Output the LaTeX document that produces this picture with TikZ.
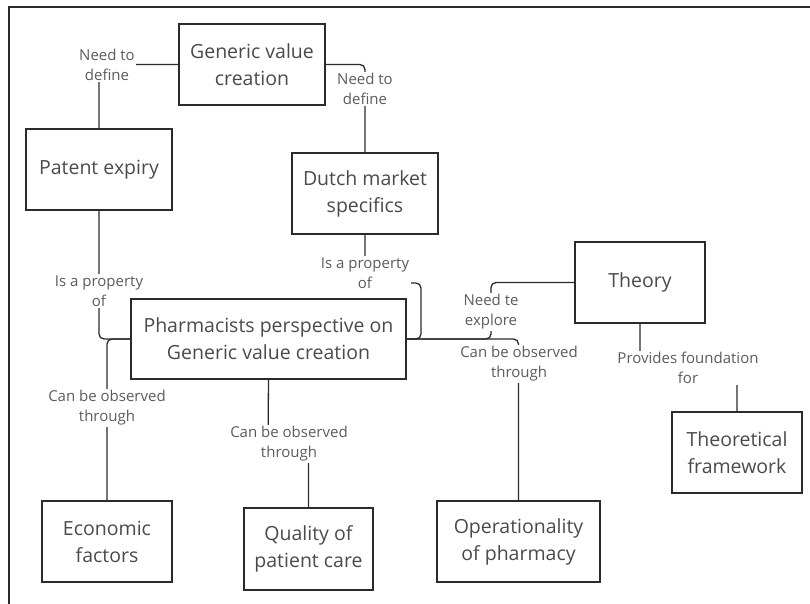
\documentclass[tikz,border=0pt]{standalone}
\usepackage{fontspec}
\setmainfont{Open Sans}
\usetikzlibrary{calc}
\pgfdeclarelayer{links}
\pgfsetlayers{links,main}
\definecolor{linec}{HTML}{2B2B2B}
\definecolor{boxtext}{HTML}{4A4A4A}
\definecolor{labeltext}{HTML}{5C5C5C}
\tikzset{
  concept/.style={draw=linec, line width=1.3pt, align=center, inner sep=0pt,
    text=boxtext, font=\fontsize{19.5}{27}\selectfont},
  link/.style={draw=linec, line width=1.3pt, rounded corners=5pt},
  linklabel/.style={fill=white, align=center, inner sep=1.5pt, text=labeltext,
    font=\fontsize{15}{20}\selectfont},
}
\begin{document}
\begin{tikzpicture}[x=1pt, y=-1pt]
\useasboundingbox (0,0) rectangle (810,604);
% outer frame
\draw[linec, line width=2pt] (9,604) -- (9,7) -- (810,7);

% concepts
\node[concept, minimum width=146pt, minimum height=81pt] (gvc) at (252,64.5) {Generic value\\creation};
\node[concept, minimum width=146pt, minimum height=81pt] (patent) at (99,169.5) {Patent expiry};
\node[concept, minimum width=146pt, minimum height=81pt] (dutch) at (365,193.5) {Dutch market\\specifics};
\node[concept, minimum width=275pt, minimum height=80pt] (pharm) at (268.5,339) {Pharmacists perspective on\\Generic value creation};
\node[concept, minimum width=130pt, minimum height=81pt] (theory) at (640,282.5) {Theory};
\node[concept, minimum width=130pt, minimum height=81pt] (tf) at (737,452.5) {Theoretical\\framework};
\node[concept, minimum width=130pt, minimum height=81pt] (econ) at (107,541.5) {Economic\\factors};
\node[concept, minimum width=129pt, minimum height=82pt] (quality) at (308.5,549) {Quality of\\patient care};
\node[concept, minimum width=163pt, minimum height=81pt] (oper) at (518.5,541.5) {Operationality\\of pharmacy};

% bend points
\coordinate (dutchbend) at (421,283);
\coordinate (theorybend) at (491,282.5);
\coordinate (qualitybend) at (268,444);
\coordinate (tfbend) at (640,368);

\begin{pgfonlayer}{links}
% connectors
\draw[link] (gvc.west) -| (patent.north);
\draw[link] (gvc.east) -| (dutch.north);
\draw[link] (patent.south) |- (pharm.west);
\draw[link] (dutch.south) |- (dutchbend) |- (pharm.east);
\draw[link] (theory.west) -- (theorybend) |- (pharm.east);
\draw[link] (pharm.east) -| (oper.north);
\draw[link] (pharm.west) -| (econ.north);
\draw[link] (pharm.south) -- (qualitybend) -| (quality.north);
\draw[link] (theory.south) -- (tfbend) -| (tf.north);

% connector labels
\node[linklabel] (l1) at (107,64.5) {Need to\\define};
\node[linklabel] (l2) at (365,89) {Need to\\define};
\node[linklabel] (l3) at (99,291) {Is a property\\of};
\node[linklabel] (l4) at (365,273) {Is a property\\of};
\node[linklabel] (l5) at (491,311.5) {Need te\\explore};
\node[linklabel] (l6) at (519,364) {Can be observed\\through};
\node[linklabel] (l7) at (107,408) {Can be observed\\through};
\node[linklabel] (l8) at (289,444) {Can be observed\\through};
\node[linklabel] (l9) at (688,368) {Provides foundation\\for};
\end{pgfonlayer}
\end{tikzpicture}
\end{document}
